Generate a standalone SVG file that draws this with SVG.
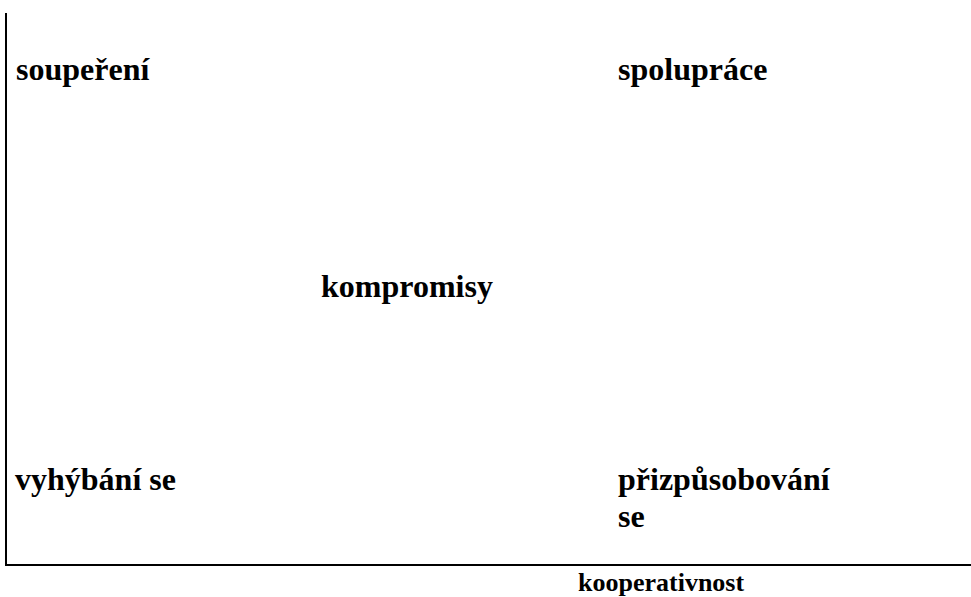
<svg xmlns="http://www.w3.org/2000/svg" width="971" height="597" viewBox="0 0 971 597">
<style>
text{font-family:'Liberation Serif','Times New Roman',Times,serif;font-weight:700;font-size:32px;fill:#000}
.s{font-size:26px}
.ax{stroke:#000;stroke-width:2;fill:none}
</style>
<rect width="971" height="597" fill="#fff"/>
<g id="axes">
<line class="ax" x1="6" y1="13" x2="6" y2="566"/>
<line class="ax" x1="5" y1="565" x2="971" y2="565"/>
</g>
<g id="souperení"><text x="16" y="80" font-family="Liberation Serif, serif">soupeření</text></g>
<g id="spoluprace"><text x="618" y="80" font-family="Liberation Serif, serif">spolupráce</text></g>
<g id="kompromisy"><text x="321" y="297" font-family="Liberation Serif, serif">kompromisy</text></g>
<g id="vyhybani"><text x="15" y="490" font-family="Liberation Serif, serif">vyhýbání se</text></g>
<g id="prizpusobovani"><text x="618" y="490" font-family="Liberation Serif, serif">přizpůsobování</text><text x="618" y="527" font-family="Liberation Serif, serif">se</text></g>
<g id="kooperativnost"><text class="s" x="578" y="591" font-family="Liberation Serif, serif">kooperativnost</text></g>
</svg>
